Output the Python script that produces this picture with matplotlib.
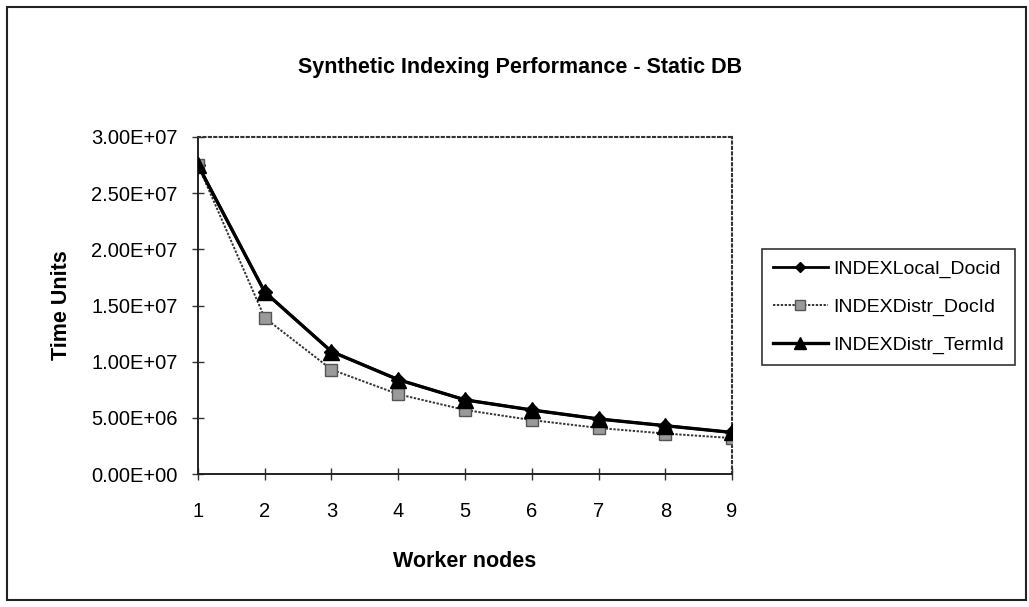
import matplotlib
matplotlib.use("Agg")
import matplotlib.pyplot as plt
from matplotlib.patches import Rectangle

plt.rcParams['font.family'] = ['Liberation Sans', 'DejaVu Sans']

nodes = [1, 2, 3, 4, 5, 6, 7, 8, 9]
local_docid = [2.75e7, 1.62e7, 1.09e7, 8.4e6, 6.6e6, 5.7e6, 4.9e6, 4.3e6, 3.7e6]
distr_docid = [2.75e7, 1.39e7, 9.3e6, 7.1e6, 5.7e6, 4.8e6, 4.1e6, 3.6e6, 3.2e6]
distr_termid = [2.75e7, 1.62e7, 1.09e7, 8.4e6, 6.6e6, 5.7e6, 4.9e6, 4.3e6, 3.7e6]
y_ticks = [0, 5e6, 1e7, 1.5e7, 2e7, 2.5e7, 3e7]
y_tick_labels = ["0.00E+00", "5.00E+06", "1.00E+07", "1.50E+07", "2.00E+07", "2.50E+07", "3.00E+07"]
series_names = ["INDEXLocal_Docid", "INDEXDistr_DocId", "INDEXDistr_TermId"]

fig = plt.figure(figsize=(10.29, 6.07), dpi=100)
fig.patches.append(Rectangle((0.007, 0.012), 0.99, 0.976, transform=fig.transFigure,
                             fill=False, edgecolor='#222222', linewidth=1.5))

ax = fig.add_axes([0.1924, 0.2191, 0.5190, 0.5552])

ax.plot(nodes, local_docid, color='black', linewidth=2.0, marker='D', markersize=7,
        markerfacecolor='black', markeredgecolor='black', label=series_names[0], zorder=3)
ax.plot(nodes, distr_docid, color='#333333', linewidth=1.4, linestyle=(0, (1.2, 0.8)), marker='s',
        markersize=9, markerfacecolor='#9a9a9a', markeredgecolor='#555555', label=series_names[1], zorder=4)
ax.plot(nodes, distr_termid, color='black', linewidth=2.4, marker='^', markersize=11,
        markerfacecolor='black', markeredgecolor='black', label=series_names[2], zorder=5)

ax.set_xlim(1, 9)
ax.set_ylim(0, 3e7)
ax.set_xticks(nodes)
ax.set_xticklabels([str(n) for n in nodes], fontsize=14.5)
ax.set_yticks(y_ticks)
ax.set_yticklabels(y_tick_labels, fontsize=14.5)
ax.tick_params(axis='both', direction='inout', length=9, width=1.0, color='#333333')
ax.tick_params(axis='y', pad=10)
ax.tick_params(axis='x', pad=16)

for side in ['left', 'bottom']:
    ax.spines[side].set_linewidth(1.4)
    ax.spines[side].set_color('#222222')
for side in ['top', 'right']:
    ax.spines[side].set_linewidth(1.5)
    ax.spines[side].set_linestyle((0, (1, 1.6)))
    ax.spines[side].set_color('#333333')

ax.set_xlabel("Worker nodes", fontsize=15.5, fontweight='bold', labelpad=21)
ax.set_ylabel("Time Units", fontsize=15.5, fontweight='bold', labelpad=14)

fig.text(0.505, 0.889, "Synthetic Indexing Performance - Static DB", ha='center', va='center',
         fontsize=15.5, fontweight='bold')

leg = fig.legend(loc='upper left', bbox_to_anchor=(0.741, 0.589), fontsize=14, frameon=True,
                 fancybox=False, edgecolor='black', handlelength=2.8, handletextpad=0.3,
                 borderpad=0.55, labelspacing=1.05, markerscale=0.8, borderaxespad=0)
leg.get_frame().set_linewidth(1.2)

fig.savefig("out.png", dpi=100)
